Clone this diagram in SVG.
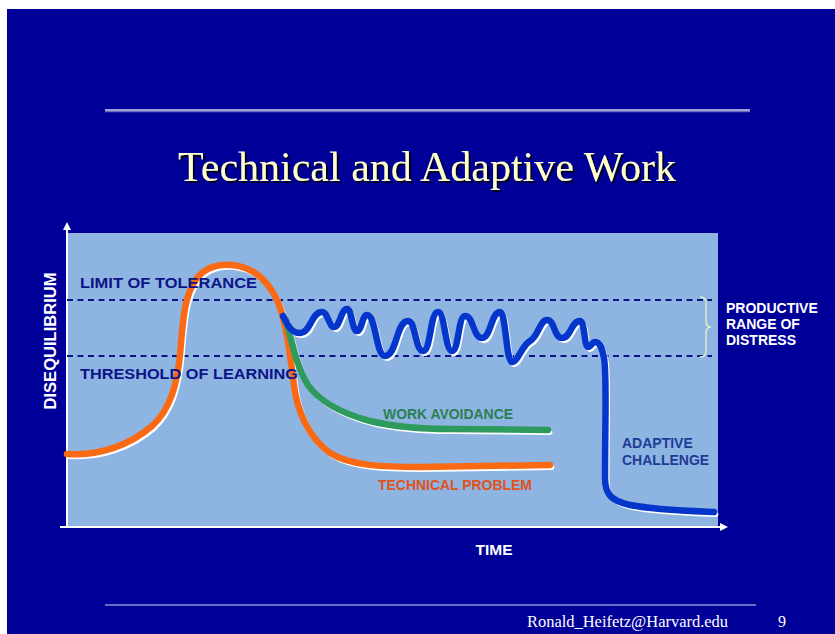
<svg xmlns="http://www.w3.org/2000/svg" width="835" height="634" viewBox="0 0 835 634">
<style>
.lbl{font-family:"Liberation Sans",Arial,sans-serif;font-weight:bold;font-size:15px}
.wl{font-family:"Liberation Sans",Arial,sans-serif;font-weight:bold;font-size:14px;fill:#ffffff}
.navy{fill:#0c1488}
.dash{stroke:#0c1488;stroke-width:2;stroke-dasharray:6 4.5;fill:none}
.sh{fill:none;stroke:#ffffff;stroke-width:5;stroke-linecap:round;stroke-linejoin:round}
.cv{fill:none;stroke-width:6.5;stroke-linecap:round;stroke-linejoin:round}
.ax{stroke:#ffffff;stroke-width:2;fill:none}
</style>
<defs>
<filter id="tshadow" x="-5%" y="-20%" width="110%" height="150%">
<feDropShadow dx="2" dy="2" stdDeviation="0.6" flood-color="#000022" flood-opacity="1"/>
</filter>
<marker id="arr" markerWidth="8" markerHeight="8" refX="6" refY="4" orient="auto" markerUnits="userSpaceOnUse">
<path d="M0,0 L8,4 L0,8 Z" fill="#ffffff"/>
</marker>
<path id="orangeP" d="M 67 454 C 100 456, 130 445, 152 426 C 170 410, 177 385, 180 355 C 183 320, 184 295, 197 278 C 207 266, 220 264, 232 265 C 252 267, 268 280, 278 302 C 287 325, 290 355, 294 385 C 297 410, 308 437, 330 453 C 350 466, 385 467, 420 467 L 550 465"/>
<path id="greenP" d="M 286 320 C 292 342, 296 365, 308 385 C 320 402, 340 413, 370 421 C 395 427, 420 429, 450 429 L 548 430"/>
<path id="blueP" d="M 283 316 C 290 330, 293 333, 300 333 C 311 333, 311 312, 322 312 C 328 312, 329 327, 334 327 C 340 327, 341 309, 347 309 C 352 309, 352 331, 357 331 C 362 331, 362 315, 367 315 C 376 315, 376 356, 385 356 C 397 356, 396 321, 408 321 C 416 321, 415 351, 423 351 C 431 351, 430 312, 438 312 C 445 312, 445 351, 452 351 C 459 351, 458 316, 465 316 C 474 316, 473 338, 482 338 C 491 338, 491 312, 500 312 C 506 312, 506 362, 512 362 C 518 362, 522 345, 530 341 C 538 337, 540 320, 547 320 C 555 320, 554 338, 562 338 C 571 338, 571 321, 580 321 C 585 321, 584 347, 588 347 C 591 347, 592 342, 595 342 C 600 342, 602 348, 604 358 C 607 375, 605 420, 605 478 C 605 495, 612 501, 630 505 C 655 510, 690 511, 714 512"/>
</defs>

<g id="background">
<rect x="0" y="0" width="835" height="634" fill="#ffffff"/>
<rect x="7" y="9" width="828" height="625" fill="#000099"/>
<line x1="105" y1="111.5" x2="750" y2="111.5" stroke="#6a6ab8" stroke-width="1.5"/>
<line x1="105" y1="110" x2="750" y2="110" stroke="#d0d0ec" stroke-width="1.5"/>
<line x1="105" y1="605" x2="756" y2="605" stroke="#d8d8f0" stroke-width="1.2"/>
</g>

<g id="title">
<text x="427" y="181" text-anchor="middle" font-family="'Liberation Serif','Times New Roman',serif" font-size="42" fill="#ffffcc" filter="url(#tshadow)">Technical and Adaptive Work</text>
</g>

<g id="chart-area">
<rect x="67" y="233" width="651" height="294" fill="#8eb4e2"/>
</g>

<g id="axes">
<line class="ax" x1="67" y1="528" x2="67" y2="224" marker-end="url(#arr)"/>
<line class="ax" x1="60" y1="527" x2="726" y2="527" marker-end="url(#arr)"/>
<text x="56" y="341" transform="rotate(-90 56 341)" text-anchor="middle" class="wl" textLength="137" lengthAdjust="spacingAndGlyphs" style="font-size:16px">DISEQUILIBRIUM</text>
<text x="494" y="555" text-anchor="middle" class="wl" textLength="37" lengthAdjust="spacingAndGlyphs">TIME</text>
</g>

<g id="dashed-lines">
<line class="dash" x1="67" y1="300" x2="712" y2="300"/>
<line class="dash" x1="67" y1="356" x2="712" y2="356"/>
</g>

<g id="connectors">
<use href="#orangeP" class="sh" transform="translate(2,2.5)"/>
<use href="#orangeP" class="cv" stroke="#fa6a14"/>
<use href="#greenP" class="sh" transform="translate(2,2.5)"/>
<use href="#greenP" class="cv" stroke="#2f9a5e"/>
<use href="#blueP" class="sh" transform="translate(2,2.5)"/>
<use href="#blueP" class="cv" stroke="#0536cc"/>
</g>

<g id="limit-of-tolerance">
<text x="80" y="288" class="lbl navy" textLength="177" lengthAdjust="spacingAndGlyphs">LIMIT OF TOLERANCE</text>
</g>

<g id="threshold-of-learning">
<text x="80" y="379" class="lbl navy" textLength="218" lengthAdjust="spacingAndGlyphs">THRESHOLD OF LEARNING</text>
</g>

<g id="productive-range">
<path d="M 700 297 Q 706 297 706 303 L 706 321 Q 706 327 711 327 Q 706 327 706 333 L 706 351 Q 706 357 700 357" fill="none" stroke="#e6f4c4" stroke-width="1.3"/>
<text x="726" y="313" class="wl">PRODUCTIVE</text>
<text x="726" y="329" class="wl">RANGE OF</text>
<text x="726" y="345" class="wl">DISTRESS</text>
</g>

<g id="work-avoidance">
<text x="383" y="419" class="lbl" style="font-size:14px" fill="#2a7f52" textLength="130" lengthAdjust="spacingAndGlyphs">WORK AVOIDANCE</text>
</g>

<g id="technical-problem">
<text x="378" y="490" class="lbl" style="font-size:14px" fill="#e0521c" textLength="154" lengthAdjust="spacingAndGlyphs">TECHNICAL PROBLEM</text>
</g>

<g id="adaptive-challenge">
<text x="622" y="448" class="lbl" style="font-size:14px" fill="#1e3c96">ADAPTIVE</text>
<text x="622" y="465" class="lbl" style="font-size:14px" fill="#1e3c96">CHALLENGE</text>
</g>

<g id="footer">
<text x="527" y="627" font-family="'Liberation Serif','Times New Roman',serif" font-size="16" fill="#ffffff" textLength="201" lengthAdjust="spacingAndGlyphs">Ronald_Heifetz@Harvard.edu</text>
<text x="778" y="627" font-family="'Liberation Serif','Times New Roman',serif" font-size="16" fill="#ffffff">9</text>
</g>
</svg>
